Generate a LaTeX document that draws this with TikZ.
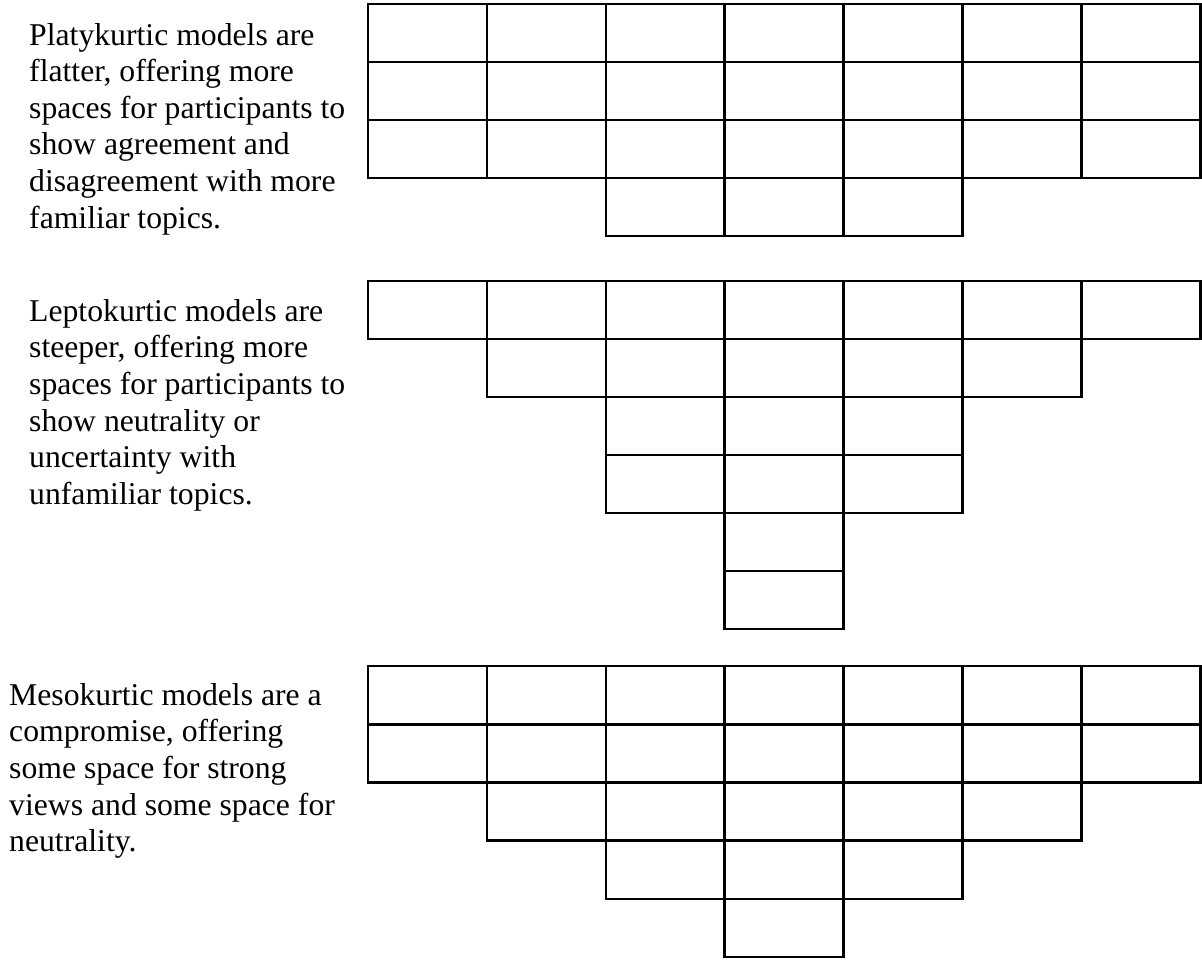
\documentclass[tikz,border=0pt]{standalone}
\usepackage{fontspec}
\setmainfont{Liberation Serif}
\usetikzlibrary{positioning}

\begin{document}
\begin{tikzpicture}[
    x=1pt, y=-1pt,
    every node/.style={inner sep=0pt, anchor=north west, align=left,
        font=\fontsize{31.7}{36.6}\selectfont},
    cell/.style={draw, line width=2.6pt}
]
\useasboundingbox (0,0) rectangle (1202,961);

% Texte
\node (platy) at (29,23) {Platykurtic models are\\flatter, offering more\\spaces for participants to\\show agreement and\\disagreement with more\\familiar topics.};
\node (lepto) at (29,299) {Leptokurtic models are\\steeper, offering more\\spaces for participants to\\show neutrality or\\uncertainty with\\unfamiliar topics.};
\node (meso) at (9,683) {Mesokurtic models are a\\compromise, offering\\some space for strong\\views and some space for\\neutrality.};

% platykurtisch
\foreach \r/\a/\b in {0/0/6, 1/0/6, 2/0/6, 3/2/4}
    \foreach \c in {\a,...,\b}
        \draw[cell] (368+\c*118.9, 4+\r*58) rectangle ++(118.9,58);

% leptokurtisch
\foreach \r/\a/\b in {0/0/6, 1/1/5, 2/2/4, 3/2/4, 4/3/3, 5/3/3}
    \foreach \c in {\a,...,\b}
        \draw[cell] (368+\c*118.9, 281+\r*58) rectangle ++(118.9,58);

% mesokurtisch
\foreach \r/\a/\b in {0/0/6, 1/0/6, 2/1/5, 3/2/4, 4/3/3}
    \foreach \c in {\a,...,\b}
        \draw[cell] (368+\c*118.9, 666+\r*58.2) rectangle ++(118.9,58.2);

\end{tikzpicture}
\end{document}
